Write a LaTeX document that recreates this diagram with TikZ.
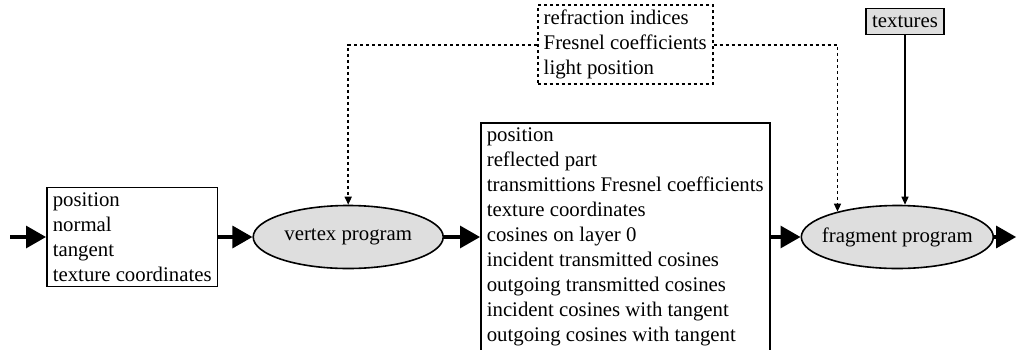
\documentclass[tikz,border=0pt]{standalone}
\usepackage{fontspec}
\setmainfont{Liberation Serif}
\usetikzlibrary{arrows.meta, shapes, positioning}
\definecolor{progfill}{gray}{0.87}

\begin{document}
\begin{tikzpicture}[->,>={Triangle[length=10pt,width=11pt]},line width=1.6pt,
	every node/.style={font=\fontsize{10.4pt}{12.5pt}\selectfont},
	data node/.style={rectangle,draw,line width=0.8pt,align=left,inner xsep=3pt,inner ysep=2.5pt},
	prog node/.style={ellipse,draw,fill=progfill,line width=0.8pt,minimum width=95pt,minimum height=31.5pt,inner xsep=-4pt,inner ysep=0pt},
	param edge/.style={line width=0.8pt,dash pattern=on 1.5pt off 1.5pt,-{Triangle[length=4pt,width=3.5pt]}},
	tex edge/.style={line width=0.6pt,-{Triangle[length=4pt,width=3.5pt]}}]
				
				\useasboundingbox (0,0) rectangle (508.5pt,-174.5pt);
				
				% Definición de los nodos
				\node[data node,anchor=west] (inbox) at (23pt,-118.5pt) {position\\normal\\tangent\\texture coordinates};
				\node[prog node] (vertex) [right=17pt of inbox] {vertex program};
				\node[data node] (outbox) [right=18pt of vertex] {position\\reflected part\\transmittions Fresnel coefficients\\texture coordinates\\cosines on layer 0\\incident transmitted cosines\\outgoing transmitted cosines\\incident cosines with tangent\\outgoing cosines with tangent};
				\node[prog node,minimum width=96pt] (frag) [right=15pt of outbox] {fragment program};
				\node[data node,dash pattern=on 1.5pt off 1.5pt] (param) [above=18.5pt of outbox] {refraction indices\\Fresnel coefficients\\light position};
				\node[data node,fill=progfill,inner ysep=3.5pt] (tex) at (452.5pt,-10.75pt) {textures};
				
				% Entrada y salida
				\coordinate (src) at ([xshift=-18pt]inbox.west);
				\coordinate (sink) at ([xshift=11pt]frag.east);
				
				% Flujo principal
				\draw (src) -- (inbox);
				\draw (inbox) -- (vertex);
				\draw (vertex) -- (outbox);
				\draw (outbox) -- (frag);
				\draw (frag) -- (sink);
				
				% Parámetros y texturas
				\draw[param edge] (param.west) -| (vertex.north);
				\draw[param edge] (param.east) -| (frag.157);
				\draw[tex edge] (tex.south) -- (tex.south |- frag.north);
			\end{tikzpicture}
\end{document}
